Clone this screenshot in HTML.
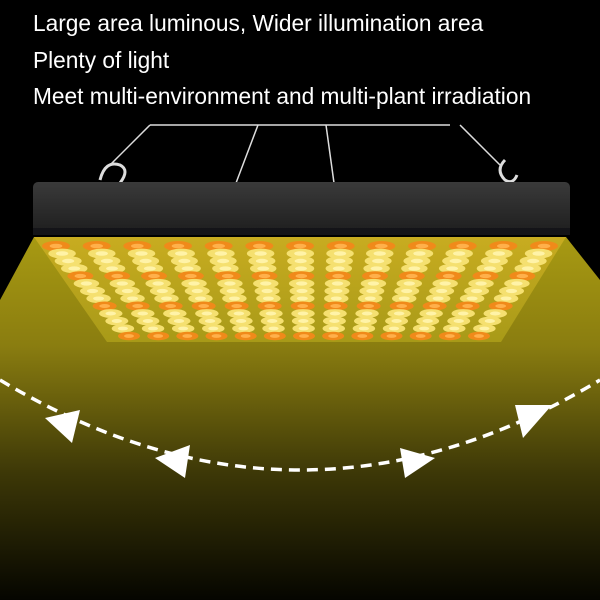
<!DOCTYPE html><html><head><style>body{margin:0;background:#000}svg{display:block}text{font-family:"Liberation Sans",sans-serif;fill:#fff;font-size:22.7px}</style></head><body>
<svg width="600" height="600" viewBox="0 0 600 600" xmlns="http://www.w3.org/2000/svg">
<defs>
<linearGradient id="bm" x1="0" y1="0" x2="0" y2="1"><stop offset="0" stop-color="#a89a12"/><stop offset="0.3" stop-color="#8a7d10"/><stop offset="0.65" stop-color="#3d3807"/><stop offset="1" stop-color="#050500"/></linearGradient>
<linearGradient id="pn" x1="0" y1="0" x2="0" y2="1"><stop offset="0" stop-color="#c8ac20"/><stop offset="1" stop-color="#a89a18"/></linearGradient>
<linearGradient id="hs" x1="0" y1="0" x2="0" y2="1"><stop offset="0" stop-color="#3a3a3a"/><stop offset="1" stop-color="#1e1e1e"/></linearGradient>
</defs>
<rect width="600" height="600" fill="#000"/>
<polygon points="34,237 566,237 600,280 600,600 0,600 0,300" fill="url(#bm)"/>
<text x="33" y="31">Large area luminous, Wider illumination area</text>
<text x="33" y="68">Plenty of light</text>
<text x="33" y="104">Meet multi-environment and multi-plant irradiation</text>
<g stroke="#ddd" stroke-width="1.5" fill="none">
<line x1="150" y1="125" x2="450" y2="125"/>
<line x1="258" y1="125" x2="236" y2="183"/>
<line x1="326" y1="125" x2="334" y2="183"/>
<line x1="150" y1="125" x2="110" y2="165"/>
<line x1="460" y1="125" x2="500" y2="165"/>
<path d="M100 180 q5 -20 20 -15 q10 5 0 18" stroke-width="3"/>
<path d="M505 160 q-10 10 0 20 q8 5 12 -5" stroke-width="3"/>
</g>
<rect x="33" y="182" width="537" height="52" rx="5" fill="url(#hs)"/>
<rect x="33" y="228" width="537" height="7" fill="#141418"/>
<polygon points="34,237 566,237 501,342 107,342" fill="url(#pn)"/>
<g id="leds"></g>
<g stroke="#fff" stroke-width="3.5" fill="none" stroke-dasharray="11 7">
<path d="M0 380 Q 300 560 600 380"/>
</g>
<g fill="#fff">
<polygon points="45,418 80,410 72,443"/>
<polygon points="155,458 190,445 185,478"/>
<polygon points="435,458 400,448 405,478"/>
<polygon points="552,405 515,405 523,438"/>
</g>
</svg>
<script>
var g=document.getElementById('leds'),s='';
for(var r=0;r<13;r++){var t=r/12,y=246+t*90,xl=34+t*73+22,xr=566-t*65-22,rx=14-t*3,ry=5-t*0.8;
var orange=(r==0||r==4||r==8||r==12);
for(var c=0;c<13;c++){var x=xl+(xr-xl)*c/12;
s+='<ellipse cx="'+x+'" cy="'+y+'" rx="'+rx+'" ry="'+ry+'" fill="'+(orange?'#f08a1a':'#f5e070')+'"/>';
s+='<ellipse cx="'+x+'" cy="'+y+'" rx="'+rx*0.45+'" ry="'+ry*0.45+'" fill="'+(orange?'#ffb04a':'#fff3a8')+'"/>';}}
g.innerHTML=s;
</script>
</body></html>
